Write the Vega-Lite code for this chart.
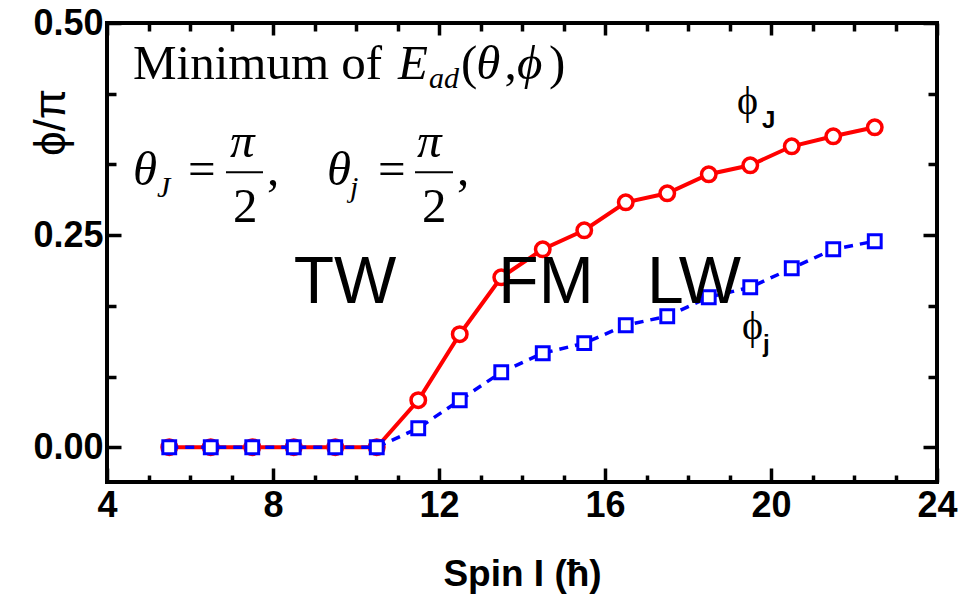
{
  "$schema": "https://vega.github.io/schema/vega-lite/v6.json",
  "width": 830,
  "height": 459,
  "autosize": {"type": "none"},
  "padding": {"left": 107, "top": 23, "right": 34, "bottom": 114},
  "background": "white",
  "config": {
    "view": {"stroke": "black", "strokeWidth": 4},
    "axis": {"grid": false, "domain": false, "tickColor": "black", "tickWidth": 3.5, "labelFlush": false, "labelOverlap": false, "labelColor": "black", "titleColor": "black"}
  },
  "datasets": {
    "curves": [
      {"I": 5.5, "phiJ": 0, "phij": 0},
      {"I": 6.5, "phiJ": 0, "phij": 0},
      {"I": 7.5, "phiJ": 0, "phij": 0},
      {"I": 8.5, "phiJ": 0, "phij": 0},
      {"I": 9.5, "phiJ": 0, "phij": 0},
      {"I": 10.5, "phiJ": 0, "phij": 0},
      {"I": 11.5, "phiJ": 0.0554, "phij": 0.0224},
      {"I": 12.5, "phiJ": 0.1332, "phij": 0.0554},
      {"I": 13.5, "phiJ": 0.2003, "phij": 0.0884},
      {"I": 14.5, "phiJ": 0.2333, "phij": 0.1108},
      {"I": 15.5, "phiJ": 0.2557, "phij": 0.1226},
      {"I": 16.5, "phiJ": 0.2887, "phij": 0.1438},
      {"I": 17.5, "phiJ": 0.2993, "phij": 0.1544},
      {"I": 18.5, "phiJ": 0.3217, "phij": 0.1768},
      {"I": 19.5, "phiJ": 0.3323, "phij": 0.1885},
      {"I": 20.5, "phiJ": 0.3547, "phij": 0.2109},
      {"I": 21.5, "phiJ": 0.3665, "phij": 0.2333},
      {"I": 22.5, "phiJ": 0.3771, "phij": 0.2428}
    ]
  },
  "resolve": {"axis": {"x": "independent", "y": "independent"}},
  "layer": [
    {
      "data": {"name": "curves"},
      "mark": {"type": "line", "color": "#ff0000", "strokeWidth": 4},
      "encoding": {
        "x": {"field": "I", "type": "quantitative", "scale": {"domain": [4, 24], "nice": false, "zero": false},
          "axis": {"orient": "bottom", "values": [4, 8, 12, 16, 20, 24], "offset": -14, "tickSize": 14, "labelPadding": 6, "labelFont": "Liberation Sans", "labelFontWeight": "bold", "labelFontSize": 36, "title": "Spin I (ħ)", "titleFont": "Liberation Sans", "titleFontWeight": "bold", "titleFontSize": 37, "titleBaseline": "alphabetic", "titleY": 117}},
        "y": {"field": "phiJ", "type": "quantitative", "scale": {"domain": [-0.041, 0.5], "nice": false, "zero": false},
          "axis": {"orient": "left", "values": [0, 0.25, 0.5], "format": ".2f", "offset": -14, "tickSize": 14, "labelPadding": 4, "labelFont": "Liberation Sans", "labelFontWeight": "bold", "labelFontSize": 36, "title": "ϕ/π", "titleFont": "Liberation Sans", "titleFontWeight": "normal", "titleFontSize": 44, "titleAngle": -90, "titleBaseline": "alphabetic", "titleAlign": "center", "titleX": -57, "titleY": 99}}
      }
    },
    {
      "data": {"name": "curves"},
      "mark": {"type": "point", "shape": "circle", "filled": true, "fill": "white", "stroke": "#ff0000", "strokeWidth": 3.5, "size": 210, "opacity": 1},
      "encoding": {
        "x": {"field": "I", "type": "quantitative", "scale": {"domain": [4, 24], "nice": false, "zero": false},
          "axis": {"orient": "bottom", "values": [5, 6, 7, 9, 10, 11, 13, 14, 15, 17, 18, 19, 21, 22, 23], "offset": -7, "tickSize": 7, "labels": false, "title": null}},
        "y": {"field": "phiJ", "type": "quantitative", "scale": {"domain": [-0.041, 0.5], "nice": false, "zero": false},
          "axis": {"orient": "left", "values": [0.08333, 0.16667, 0.33333, 0.41667], "offset": -9, "tickSize": 9, "labels": false, "title": null}}
      }
    },
    {
      "data": {"name": "curves"},
      "mark": {"type": "line", "color": "#0000ff", "strokeWidth": 3.5, "strokeDash": [9, 7]},
      "encoding": {
        "x": {"field": "I", "type": "quantitative", "scale": {"domain": [4, 24], "nice": false, "zero": false},
          "axis": {"orient": "top", "values": [4, 8, 12, 16, 20, 24], "offset": -12, "tickSize": 12, "labels": false, "title": null}},
        "y": {"field": "phij", "type": "quantitative", "scale": {"domain": [-0.041, 0.5], "nice": false, "zero": false},
          "axis": {"orient": "right", "values": [0, 0.25, 0.5], "offset": -14, "tickSize": 14, "labels": false, "title": null}}
      }
    },
    {
      "data": {"name": "curves"},
      "mark": {"type": "point", "shape": "square", "filled": true, "fill": "white", "stroke": "#0000ff", "strokeWidth": 3, "size": 165, "opacity": 1},
      "encoding": {
        "x": {"field": "I", "type": "quantitative", "scale": {"domain": [4, 24], "nice": false, "zero": false},
          "axis": {"orient": "top", "values": [5, 6, 7, 9, 10, 11, 13, 14, 15, 17, 18, 19, 21, 22, 23], "offset": -8, "tickSize": 8, "labels": false, "title": null}},
        "y": {"field": "phij", "type": "quantitative", "scale": {"domain": [-0.041, 0.5], "nice": false, "zero": false},
          "axis": {"orient": "right", "values": [0.08333, 0.16667, 0.33333, 0.41667], "offset": -9, "tickSize": 9, "labels": false, "title": null}}
      }
    },
    {
      "data": {"values": [
        {"I": 4.627, "phi": 0.4337, "text": "Minimum of"},
        {"I": 12.53, "phi": 0.4337, "text": "("},
        {"I": 13.58, "phi": 0.4337, "text": ","},
        {"I": 14.65, "phi": 0.4337, "text": ")"},
        {"I": 5.952, "phi": 0.3087, "text": "="},
        {"I": 10.53, "phi": 0.3087, "text": "="},
        {"I": 7.036, "phi": 0.2651, "text": "2"},
        {"I": 11.59, "phi": 0.2651, "text": "2"},
        {"I": 7.855, "phi": 0.3087, "text": ","},
        {"I": 12.434, "phi": 0.3087, "text": ","}
      ]},
      "mark": {"type": "text", "font": "Liberation Serif", "fontSize": 49, "align": "left", "baseline": "alphabetic", "color": "black"},
      "encoding": {
        "x": {"field": "I", "type": "quantitative", "scale": {"domain": [4, 24], "nice": false, "zero": false}, "axis": null},
        "y": {"field": "phi", "type": "quantitative", "scale": {"domain": [-0.041, 0.5], "nice": false, "zero": false}, "axis": null},
        "text": {"field": "text"}
      }
    },
    {
      "data": {"values": [
        {"I": 11.012, "phi": 0.4337, "text": "E"},
        {"I": 12.9, "phi": 0.4337, "text": "θ"},
        {"I": 13.88, "phi": 0.4337, "text": "ϕ"},
        {"I": 4.627, "phi": 0.3087, "text": "θ"},
        {"I": 6.964, "phi": 0.3417, "text": "π"},
        {"I": 9.301, "phi": 0.3087, "text": "θ"},
        {"I": 11.47, "phi": 0.3417, "text": "π"}
      ]},
      "mark": {"type": "text", "font": "Liberation Serif", "fontStyle": "italic", "fontSize": 49, "align": "left", "baseline": "alphabetic", "color": "black"},
      "encoding": {
        "x": {"field": "I", "type": "quantitative", "scale": {"domain": [4, 24], "nice": false, "zero": false}, "axis": null},
        "y": {"field": "phi", "type": "quantitative", "scale": {"domain": [-0.041, 0.5], "nice": false, "zero": false}, "axis": null},
        "text": {"field": "text"}
      }
    },
    {
      "data": {"values": [
        {"I": 11.76, "phi": 0.4231, "text": "ad"},
        {"I": 5.205, "phi": 0.2946, "text": "J"},
        {"I": 9.855, "phi": 0.2946, "text": "j"}
      ]},
      "mark": {"type": "text", "font": "Liberation Serif", "fontStyle": "italic", "fontSize": 30, "align": "left", "baseline": "alphabetic", "color": "black"},
      "encoding": {
        "x": {"field": "I", "type": "quantitative", "scale": {"domain": [4, 24], "nice": false, "zero": false}, "axis": null},
        "y": {"field": "phi", "type": "quantitative", "scale": {"domain": [-0.041, 0.5], "nice": false, "zero": false}, "axis": null},
        "text": {"field": "text"}
      }
    },
    {
      "data": {"values": [
        {"I": 6.867, "I2": 7.759, "phi": 0.3241},
        {"I": 11.422, "I2": 12.337, "phi": 0.3241}
      ]},
      "mark": {"type": "rule", "color": "black", "strokeWidth": 2.2},
      "encoding": {
        "x": {"field": "I", "type": "quantitative", "scale": {"domain": [4, 24], "nice": false, "zero": false}, "axis": null},
        "x2": {"field": "I2"},
        "y": {"field": "phi", "type": "quantitative", "scale": {"domain": [-0.041, 0.5], "nice": false, "zero": false}, "axis": null}
      }
    },
    {
      "data": {"values": [
        {"I": 9.735, "phi": 0.1697, "text": "TW"},
        {"I": 14.578, "phi": 0.1697, "text": "FM"},
        {"I": 18.145, "phi": 0.1697, "text": "LW"}
      ]},
      "mark": {"type": "text", "font": "Liberation Sans", "fontSize": 66, "align": "center", "baseline": "alphabetic", "color": "black"},
      "encoding": {
        "x": {"field": "I", "type": "quantitative", "scale": {"domain": [4, 24], "nice": false, "zero": false}, "axis": null},
        "y": {"field": "phi", "type": "quantitative", "scale": {"domain": [-0.041, 0.5], "nice": false, "zero": false}, "axis": null},
        "text": {"field": "text"}
      }
    },
    {
      "data": {"values": [
        {"I": 19.181, "phi": 0.3924, "text": "ϕ"},
        {"I": 19.301, "phi": 0.1273, "text": "ϕ"}
      ]},
      "mark": {"type": "text", "font": "Liberation Serif", "fontSize": 40, "align": "left", "baseline": "alphabetic", "color": "black"},
      "encoding": {
        "x": {"field": "I", "type": "quantitative", "scale": {"domain": [4, 24], "nice": false, "zero": false}, "axis": null},
        "y": {"field": "phi", "type": "quantitative", "scale": {"domain": [-0.041, 0.5], "nice": false, "zero": false}, "axis": null},
        "text": {"field": "text"}
      }
    },
    {
      "data": {"values": [
        {"I": 19.783, "phi": 0.3759, "text": "J"},
        {"I": 19.807, "phi": 0.1119, "text": "j"}
      ]},
      "mark": {"type": "text", "font": "Liberation Sans", "fontWeight": "bold", "fontSize": 24, "align": "left", "baseline": "alphabetic", "color": "black"},
      "encoding": {
        "x": {"field": "I", "type": "quantitative", "scale": {"domain": [4, 24], "nice": false, "zero": false}, "axis": null},
        "y": {"field": "phi", "type": "quantitative", "scale": {"domain": [-0.041, 0.5], "nice": false, "zero": false}, "axis": null},
        "text": {"field": "text"}
      }
    }
  ]
}
